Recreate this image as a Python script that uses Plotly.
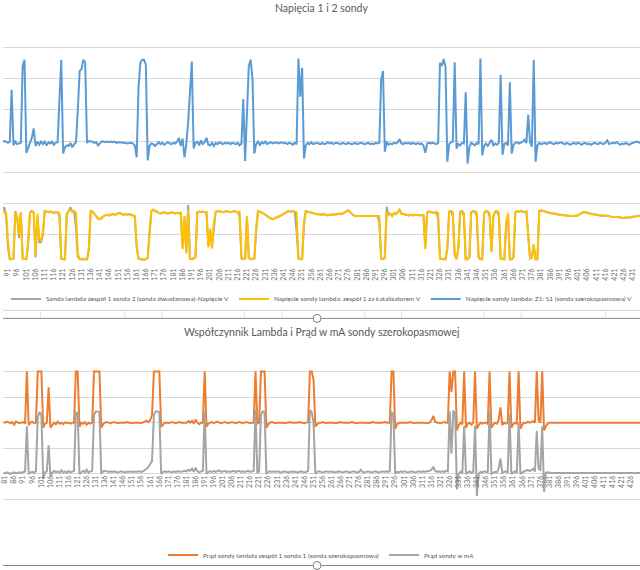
import plotly.graph_objects as go

# ---------------- data ----------------
categories = list(range(80, 440))
top_ticks = list(range(91, 432, 5))
bottom_ticks = list(range(81, 431, 5))

name_grey_top = "Sonda lambda zespół 1 sonda 2 (sonda dwustanowa)-Napięcie V"
name_yellow = "Napięcie sondy lambda: zespół 1 za katalizatorem V"
name_blue = "Napięcie sondy lambda: Z1: S1 (sonda szerokopasmowa) V"
name_orange = "Prąd sondy lambda zespół 1 sonda 1 (sonda szerokopasmowa)"
name_grey_bot = "Prąd sondy w mA"

title_top = "Napięcia 1 i 2 sondy"
title_bottom = "Współczynnik Lambda i Prąd w mA sondy szerokopasmowej"

blue_v = [
    1.97, 1.98, 1.96, 1.97, 1.99, 1.98, 1.96, 1.97, 1.98, 2.00,
    1.99, 1.97, 1.99, 2.82, 1.93, 1.99, 1.95, 1.96, 1.97, 3.20,
    3.30, 1.81, 1.88, 1.96, 2.05, 2.20, 1.92, 1.99, 1.94, 1.99,
    1.95, 1.99, 1.93, 1.98, 1.96, 1.99, 1.94, 1.97, 1.98, 2.65,
    3.30, 1.80, 1.90, 1.93, 1.92, 1.97, 1.90, 1.95, 1.98, 2.50,
    3.12, 3.15, 3.30, 3.25, 1.97, 2.00, 2.00, 1.99, 1.97, 1.98,
    1.93, 1.97, 1.99, 1.99, 1.98, 1.99, 1.98, 1.99, 1.98, 1.99,
    1.97, 1.98, 1.98, 1.97, 1.98, 1.97, 1.96, 1.97, 1.97, 1.96,
    1.93, 1.74, 2.85, 3.25, 3.30, 3.30, 3.22, 1.69, 1.92, 1.96,
    1.95, 1.92, 1.96, 1.98, 1.95, 1.97, 1.94, 1.96, 1.98, 1.96,
    1.95, 1.97, 1.96, 1.99, 2.05, 1.92, 2.04, 1.74, 1.95, 2.30,
    2.80, 3.27, 1.88, 1.97, 1.99, 1.93, 2.01, 1.95, 1.98, 2.05,
    1.94, 1.93, 1.97, 1.92, 1.97, 1.95, 1.98, 1.97, 1.95, 1.97,
    1.96, 1.97, 1.95, 1.97, 1.96, 1.95, 1.97, 1.93, 1.96, 2.67,
    1.68, 2.50, 3.20, 3.30, 3.00, 1.80, 1.95, 1.99, 1.93, 1.98,
    1.96, 1.99, 1.95, 1.97, 1.98, 1.96, 1.97, 1.98, 1.96, 1.97,
    1.98, 1.96, 1.97, 1.95, 1.97, 1.96, 1.94, 1.97, 1.95, 3.32,
    2.71, 3.17, 1.72, 1.93, 1.97, 1.95, 1.98, 1.95, 1.96, 1.97,
    1.96, 1.95, 1.97, 1.95, 1.96, 1.98, 1.96, 1.97, 1.95, 1.97,
    1.97, 1.96, 1.95, 1.97, 1.96, 1.95, 1.97, 1.96, 1.95, 1.96,
    1.97, 1.95, 1.96, 1.97, 1.96, 1.95, 1.96, 1.97, 1.95, 1.96,
    1.95, 1.97, 1.96, 1.97, 2.98, 3.12, 1.83, 1.99, 1.94, 1.96,
    1.95, 1.97, 1.96, 1.98, 2.03, 1.96, 1.95, 1.97, 1.96, 1.97,
    1.95, 1.97, 1.96, 1.95, 1.97, 1.95, 1.96, 1.93, 1.81, 1.96,
    1.97, 1.96, 1.97, 1.96, 1.95, 1.97, 3.25, 3.20, 3.31, 3.18,
    1.67, 1.95, 1.98, 1.99, 3.26, 1.88, 1.95, 1.93, 1.97, 1.96,
    2.78, 1.64, 1.90, 1.97, 1.95, 1.93, 1.97, 1.95, 3.32, 1.77,
    1.92, 1.96, 1.92, 1.97, 2.02, 1.93, 1.96, 1.94, 1.97, 3.06,
    1.78, 1.95, 1.97, 1.93, 2.94, 1.80, 1.94, 1.97, 1.98, 1.96,
    1.97, 1.99, 2.02, 1.97, 2.42, 1.98, 1.91, 3.30, 1.67, 1.93,
    1.97, 1.95, 1.96, 1.97, 1.95, 1.96, 1.98, 1.96, 1.95, 1.97,
    1.96, 1.97, 1.98, 1.96, 1.95, 1.97, 1.96, 1.94, 1.96, 1.97,
    1.95, 1.97, 1.96, 1.94, 1.96, 1.97, 1.95, 1.96, 1.94, 1.96,
    1.97, 1.96, 1.95, 1.97, 1.96, 1.95, 1.97, 2.01, 1.95, 1.96,
    1.97, 1.96, 1.98, 1.96, 1.94, 1.96, 1.95, 1.97, 1.96, 1.94,
    1.96, 1.97, 1.98, 1.99, 1.98, 1.97, 1.96, 1.97, 1.98, 1.97,
]

yellow_v = [
    0.85, 0.86, 0.85, 0.86, 0.87, 0.86, 0.85, 0.86, 0.87, 0.86,
    0.85, 0.40, 0.11, 0.11, 0.12, 0.86, 0.80, 0.50, 0.85, 0.12,
    0.11, 0.11, 0.40, 0.85, 0.87, 0.86, 0.16, 0.84, 0.45, 0.40,
    0.55, 0.88, 0.87, 0.86, 0.87, 0.86, 0.85, 0.86, 0.86, 0.84,
    0.12, 0.11, 0.11, 0.84, 0.88, 0.90, 0.87, 0.88, 0.85, 0.20,
    0.11, 0.11, 0.11, 0.11, 0.11, 0.30, 0.88, 0.87, 0.84, 0.80,
    0.76, 0.75, 0.77, 0.80, 0.81, 0.82, 0.81, 0.82, 0.83, 0.82,
    0.83, 0.84, 0.85, 0.83, 0.82, 0.83, 0.82, 0.83, 0.82, 0.81,
    0.80, 0.35, 0.12, 0.11, 0.10, 0.10, 0.11, 0.13, 0.55, 0.88,
    0.90, 0.88, 0.86, 0.85, 0.84, 0.85, 0.86, 0.85, 0.84, 0.85,
    0.86, 0.85, 0.84, 0.85, 0.84, 0.85, 0.27, 0.80, 0.20, 0.90,
    0.12, 0.11, 0.12, 0.15, 0.86, 0.87, 0.86, 0.87, 0.86, 0.86,
    0.30, 0.60, 0.28, 0.70, 0.87, 0.88, 0.88, 0.87, 0.86, 0.87,
    0.88, 0.87, 0.86, 0.87, 0.88, 0.87, 0.86, 0.87, 0.15, 0.11,
    0.12, 0.80, 0.13, 0.11, 0.11, 0.12, 0.60, 0.88, 0.87, 0.86,
    0.84, 0.82, 0.80, 0.77, 0.76, 0.75, 0.76, 0.77, 0.78, 0.80,
    0.82, 0.84, 0.86, 0.87, 0.88, 0.87, 0.88, 0.87, 0.86, 0.12,
    0.11, 0.11, 0.70, 0.88, 0.87, 0.86, 0.85, 0.84, 0.84, 0.83,
    0.83, 0.82, 0.82, 0.83, 0.82, 0.81, 0.82, 0.82, 0.83, 0.82,
    0.83, 0.84, 0.83, 0.84, 0.86, 0.88, 0.89, 0.87, 0.84, 0.81,
    0.80, 0.80, 0.81, 0.80, 0.80, 0.81, 0.80, 0.80, 0.81, 0.80,
    0.80, 0.81, 0.80, 0.80, 0.12, 0.11, 0.13, 0.86, 0.82, 0.84,
    0.80, 0.85, 0.83, 0.86, 0.90, 0.84, 0.83, 0.82, 0.82, 0.81,
    0.82, 0.81, 0.82, 0.82, 0.81, 0.82, 0.82, 0.81, 0.27, 0.85,
    0.87, 0.86, 0.86, 0.85, 0.86, 0.85, 0.12, 0.11, 0.11, 0.11,
    0.30, 0.87, 0.88, 0.86, 0.20, 0.11, 0.30, 0.87, 0.88, 0.85,
    0.11, 0.11, 0.15, 0.86, 0.88, 0.87, 0.86, 0.15, 0.11, 0.11,
    0.86, 0.88, 0.87, 0.85, 0.22, 0.80, 0.87, 0.88, 0.86, 0.12,
    0.11, 0.11, 0.70, 0.85, 0.11, 0.11, 0.15, 0.86, 0.88, 0.87,
    0.88, 0.87, 0.86, 0.87, 0.50, 0.12, 0.15, 0.35, 0.11, 0.11,
    0.88, 0.89, 0.88, 0.87, 0.86, 0.86, 0.85, 0.84, 0.84, 0.83,
    0.83, 0.82, 0.82, 0.81, 0.81, 0.81, 0.80, 0.80, 0.80, 0.80,
    0.80, 0.81, 0.83, 0.85, 0.86, 0.86, 0.85, 0.84, 0.84, 0.83,
    0.83, 0.82, 0.82, 0.81, 0.81, 0.81, 0.80, 0.80, 0.80, 0.79,
    0.79, 0.79, 0.78, 0.78, 0.78, 0.77, 0.77, 0.77, 0.77, 0.78,
    0.78, 0.79, 0.79, 0.80, 0.80, 0.81, 0.81, 0.81, 0.81, 0.81,
]

grey_top_v = [
    0.85, 0.86, 0.85, 0.86, 0.87, 0.86, 0.85, 0.86, 0.90, 0.94,
    0.80, 0.30, 0.11, 0.11, 0.12, 0.88, 0.78, 0.45, 0.86, 0.12,
    0.11, 0.11, 0.35, 0.86, 0.88, 0.86, 0.14, 0.80, 0.38, 0.38,
    0.50, 0.88, 0.87, 0.86, 0.87, 0.86, 0.85, 0.86, 0.86, 0.80,
    0.12, 0.11, 0.11, 0.82, 0.88, 0.94, 0.87, 0.88, 0.60, 0.15,
    0.11, 0.11, 0.11, 0.11, 0.11, 0.25, 0.88, 0.87, 0.84, 0.80,
    0.76, 0.75, 0.77, 0.80, 0.81, 0.82, 0.81, 0.82, 0.83, 0.82,
    0.83, 0.84, 0.85, 0.83, 0.82, 0.83, 0.82, 0.83, 0.82, 0.81,
    0.78, 0.30, 0.12, 0.11, 0.10, 0.10, 0.11, 0.13, 0.50, 0.88,
    0.90, 0.88, 0.86, 0.85, 0.84, 0.85, 0.86, 0.85, 0.84, 0.85,
    0.86, 0.85, 0.84, 0.85, 0.84, 0.85, 0.30, 0.78, 0.22, 0.98,
    0.12, 0.11, 0.12, 0.14, 0.86, 0.87, 0.86, 0.87, 0.86, 0.86,
    0.32, 0.55, 0.32, 0.65, 0.87, 0.88, 0.88, 0.87, 0.86, 0.87,
    0.88, 0.87, 0.86, 0.87, 0.88, 0.87, 0.86, 0.80, 0.12, 0.11,
    0.12, 0.78, 0.13, 0.11, 0.11, 0.12, 0.55, 0.88, 0.87, 0.86,
    0.84, 0.82, 0.80, 0.77, 0.76, 0.75, 0.76, 0.77, 0.78, 0.80,
    0.82, 0.84, 0.86, 0.87, 0.88, 0.87, 0.88, 0.87, 0.55, 0.12,
    0.11, 0.11, 0.65, 0.88, 0.87, 0.86, 0.85, 0.84, 0.84, 0.83,
    0.83, 0.82, 0.82, 0.83, 0.82, 0.81, 0.82, 0.82, 0.83, 0.82,
    0.83, 0.84, 0.83, 0.84, 0.86, 0.88, 0.89, 0.87, 0.84, 0.81,
    0.80, 0.80, 0.81, 0.80, 0.80, 0.81, 0.80, 0.80, 0.81, 0.80,
    0.80, 0.81, 0.80, 0.70, 0.12, 0.11, 0.13, 0.95, 0.82, 0.84,
    0.80, 0.85, 0.83, 0.86, 0.90, 0.84, 0.83, 0.82, 0.82, 0.81,
    0.82, 0.81, 0.82, 0.82, 0.81, 0.82, 0.82, 0.81, 0.30, 0.85,
    0.87, 0.86, 0.86, 0.85, 0.86, 0.75, 0.12, 0.11, 0.11, 0.11,
    0.28, 0.87, 0.88, 0.80, 0.18, 0.11, 0.28, 0.87, 0.88, 0.80,
    0.11, 0.11, 0.14, 0.86, 0.88, 0.87, 0.80, 0.14, 0.11, 0.11,
    0.84, 0.88, 0.87, 0.80, 0.24, 0.78, 0.87, 0.88, 0.80, 0.12,
    0.11, 0.11, 0.65, 0.80, 0.11, 0.11, 0.14, 0.86, 0.88, 0.87,
    0.88, 0.87, 0.86, 0.87, 0.45, 0.12, 0.14, 0.33, 0.11, 0.11,
    0.88, 0.89, 0.88, 0.87, 0.86, 0.86, 0.85, 0.84, 0.84, 0.83,
    0.83, 0.82, 0.82, 0.81, 0.81, 0.81, 0.80, 0.80, 0.80, 0.80,
    0.80, 0.81, 0.83, 0.85, 0.86, 0.86, 0.85, 0.84, 0.84, 0.83,
    0.83, 0.82, 0.82, 0.81, 0.81, 0.81, 0.80, 0.80, 0.80, 0.79,
    0.79, 0.79, 0.78, 0.78, 0.78, 0.77, 0.77, 0.77, 0.77, 0.78,
    0.78, 0.79, 0.79, 0.80, 0.80, 0.81, 0.81, 0.81, 0.81, 0.81,
]

orange_lambda = [
    1.01, 1.00, 1.02, 1.00, 0.99, 1.01, 0.96, 1.02, 1.00, 0.99,
    1.00, 1.01, 0.98, 2.00, 0.95, 1.00, 1.02, 0.99, 1.00, 2.00,
    2.00, 2.00, 0.90, 0.98, 1.00, 1.69, 0.90, 0.95, 1.00, 0.97,
    1.02, 0.98, 1.00, 0.97, 1.01, 0.99, 1.00, 0.98, 1.00, 1.00,
    2.00, 2.00, 0.92, 1.00, 0.98, 1.01, 0.96, 1.00, 0.98, 1.00,
    2.00, 2.00, 2.00, 2.00, 0.90, 0.97, 1.00, 1.01, 1.00, 0.99,
    1.00, 1.01, 1.00, 0.99, 1.00, 1.00, 0.99, 1.00, 1.01, 1.00,
    1.00, 0.99, 1.00, 1.00, 1.01, 1.00, 0.99, 1.00, 1.02, 1.04,
    1.01, 1.05, 1.15, 2.00, 2.00, 2.00, 2.00, 0.92, 0.97, 1.00,
    1.00, 0.99, 1.00, 1.01, 1.00, 0.99, 1.00, 1.01, 1.00, 1.00,
    1.01, 1.00, 1.03, 1.00, 1.04, 0.98, 1.06, 1.00, 0.97, 1.00,
    1.00, 2.00, 0.92, 0.98, 1.00, 1.01, 0.99, 1.00, 1.02, 1.00,
    0.99, 1.00, 1.01, 1.00, 0.99, 1.00, 1.01, 1.00, 0.99, 1.00,
    1.01, 1.00, 0.99, 1.00, 1.01, 1.00, 0.99, 1.00, 1.00, 2.00,
    0.98, 1.00, 2.00, 2.00, 2.00, 0.90, 0.97, 1.00, 1.01, 1.00,
    0.99, 1.00, 1.00, 1.01, 1.00, 0.99, 1.00, 1.00, 1.01, 1.00,
    1.00, 0.99, 1.00, 1.01, 1.00, 1.00, 0.99, 1.00, 1.01, 2.00,
    2.00, 1.83, 0.92, 0.97, 1.00, 1.00, 1.01, 1.00, 0.99, 1.00,
    1.00, 1.01, 1.00, 0.99, 1.00, 1.00, 1.01, 1.00, 1.00, 0.99,
    1.00, 1.00, 1.01, 1.00, 1.00, 0.99, 1.00, 1.00, 1.01, 1.00,
    1.00, 0.99, 1.00, 1.00, 1.01, 1.00, 1.00, 0.99, 1.00, 1.00,
    1.01, 1.00, 1.00, 1.00, 2.00, 2.00, 0.88, 0.97, 1.00, 1.00,
    1.00, 0.99, 1.00, 1.00, 1.01, 1.00, 1.00, 0.99, 1.00, 1.00,
    1.01, 1.00, 1.00, 0.99, 1.00, 1.00, 1.05, 1.13, 1.02, 1.00,
    1.00, 0.99, 1.00, 1.01, 1.00, 1.00, 2.00, 1.60, 2.00, 2.00,
    0.85, 0.95, 1.00, 0.97, 2.00, 0.90, 0.98, 1.00, 0.96, 1.00,
    2.00, 0.88, 0.95, 1.00, 0.98, 1.00, 1.00, 0.97, 2.00, 0.90,
    0.96, 1.00, 0.98, 1.05, 1.30, 0.95, 1.00, 0.98, 1.00, 2.00,
    0.90, 0.97, 1.00, 0.98, 2.00, 0.88, 0.96, 1.00, 0.99, 1.02,
    1.00, 1.01, 1.03, 1.00, 2.00, 1.05, 1.00, 2.00, 0.85, 0.93,
    0.98, 1.00, 1.00, 1.00, 1.00, 1.00, 1.00, 1.00, 1.00, 1.00,
    1.00, 1.00, 1.00, 1.00, 1.00, 1.00, 1.00, 1.00, 1.00, 1.00,
    1.00, 1.00, 1.00, 1.00, 1.00, 1.00, 1.00, 1.00, 1.00, 1.00,
    1.00, 1.00, 1.00, 1.00, 1.00, 1.00, 1.00, 1.00, 1.00, 1.00,
    1.00, 1.00, 1.00, 1.00, 1.00, 1.00, 1.00, 1.00, 1.00, 1.00,
    1.00, 1.00, 1.00, 1.00, 1.00, 1.00, 1.00, 1.00, 1.00, 1.00,
]

grey_current = [
    0.02, 0.01, 0.03, 0.02, 0.00, 0.02, 0.03, 0.01, 0.02, 0.03,
    0.02, 0.03, 0.05, 0.93, 0.00, 0.03, 0.04, 0.02, 0.05, 1.10,
    1.21, 1.15, -0.10, 0.03, 0.05, 0.56, -0.05, 0.02, 0.06, 0.03,
    0.05, 0.02, 0.07, 0.03, 0.05, 0.02, 0.06, 0.03, 0.04, 0.06,
    1.20, 1.18, 0.00, 0.04, 0.06, 0.03, 0.08, 0.02, 0.05, 0.06,
    1.15, 1.22, 1.22, 1.20, 0.00, 0.05, 0.06, 0.05, 0.04, 0.05,
    0.04, 0.05, 0.04, 0.03, 0.04, 0.05, 0.04, 0.03, 0.04, 0.04,
    0.03, 0.04, 0.04, 0.03, 0.04, 0.05, 0.04, 0.05, 0.07, 0.10,
    0.14, 0.20, 0.25, 1.15, 1.22, 1.22, 1.20, 0.00, 0.04, 0.05,
    0.04, 0.05, 0.04, 0.03, 0.05, 0.04, 0.05, 0.04, 0.04, 0.05,
    0.06, 0.05, 0.08, 0.06, 0.10, 0.04, 0.12, 0.05, 0.03, 0.05,
    0.06, 1.22, 0.00, 0.04, 0.05, 0.04, 0.06, 0.04, 0.05, 0.07,
    0.04, 0.05, 0.06, 0.04, 0.05, 0.04, 0.05, 0.06, 0.04, 0.05,
    0.06, 0.04, 0.05, 0.04, 0.05, 0.06, 0.04, 0.05, 0.06, 1.25,
    0.02, 0.05, 1.15, 1.22, 1.20, 0.00, 0.04, 0.05, 0.04, 0.05,
    0.04, 0.05, 0.04, 0.03, 0.04, 0.05, 0.04, 0.03, 0.04, 0.04,
    0.05, 0.04, 0.03, 0.04, 0.05, 0.04, 0.03, 0.04, 0.06, 1.25,
    1.20, 1.00, 0.00, 0.04, 0.05, 0.04, 0.03, 0.04, 0.05, 0.04,
    0.04, 0.05, 0.04, 0.03, 0.04, 0.05, 0.04, 0.03, 0.04, 0.05,
    0.04, 0.03, 0.04, 0.05, 0.04, 0.03, 0.04, 0.08, 0.04, 0.03,
    0.04, 0.05, 0.04, 0.03, 0.04, 0.05, 0.04, 0.03, 0.04, 0.05,
    0.04, 0.05, 0.04, 0.05, 1.20, 1.18, 0.00, 0.04, 0.03, 0.05,
    0.04, 0.05, 0.04, 0.03, 0.04, 0.05, 0.04, 0.03, 0.04, 0.05,
    0.04, 0.05, 0.04, 0.04, 0.05, 0.06, 0.08, 0.14, 0.06, 0.04,
    0.05, 0.04, 0.05, 0.04, 0.06, 0.05, 1.22, 0.40, 1.22, 1.20,
    -0.30, 0.00, 0.04, 0.02, 0.94, 0.00, 0.03, 0.05, 0.02, 0.04,
    0.94, -0.43, 0.00, 0.04, 0.03, 0.05, 0.04, 0.03, 1.22, 0.00,
    0.02, 0.04, 0.03, 0.10, 0.30, 0.02, 0.04, 0.05, 0.03, 1.17,
    0.00, 0.03, 0.05, 0.02, 1.00, 0.00, 0.03, 0.05, 0.06, 0.08,
    0.06, 0.07, 0.10, 0.05, 0.84, 0.10, 0.08, 0.93, -0.35, 0.02,
    0.03, 0.02, 0.02, 0.02, 0.02, 0.02, 0.02, 0.02, 0.02, 0.02,
    0.02, 0.02, 0.02, 0.02, 0.02, 0.02, 0.02, 0.02, 0.02, 0.02,
    0.02, 0.02, 0.02, 0.02, 0.02, 0.02, 0.02, 0.02, 0.02, 0.02,
    0.02, 0.02, 0.02, 0.02, 0.02, 0.02, 0.02, 0.02, 0.02, 0.02,
    0.02, 0.02, 0.02, 0.02, 0.02, 0.02, 0.02, 0.02, 0.02, 0.02,
    0.02, 0.02, 0.02, 0.02, 0.02, 0.02, 0.02, 0.02, 0.02, 0.02,
]

for arr in (blue_v, yellow_v, grey_top_v, orange_lambda, grey_current):
    assert len(arr) == len(categories), len(arr)

# ---------------- styling ----------------
W, H = 640, 570
FONT = "Lato"
TXT = "#595959"
GRID = "#d9d9d9"
C_BLUE, C_ORANGE, C_GREY, C_GOLD = "#5B9BD5", "#ED7D31", "#A5A5A5", "#FFC000"


def py(p):
    return 1 - p / H


fig = go.Figure()
fig.add_trace(go.Scatter(x=categories, y=grey_top_v, mode="lines", name=name_grey_top,
                         line=dict(color=C_GREY, width=2), xaxis="x", yaxis="y", legend="legend"))
fig.add_trace(go.Scatter(x=categories, y=yellow_v, mode="lines", name=name_yellow,
                         line=dict(color=C_GOLD, width=2), xaxis="x", yaxis="y", legend="legend"))
fig.add_trace(go.Scatter(x=categories, y=blue_v, mode="lines", name=name_blue,
                         line=dict(color=C_BLUE, width=2), xaxis="x", yaxis="y", legend="legend"))
fig.add_trace(go.Scatter(x=categories, y=orange_lambda, mode="lines", name=name_orange,
                         line=dict(color=C_ORANGE, width=2), xaxis="x2", yaxis="y2", legend="legend2"))
fig.add_trace(go.Scatter(x=categories, y=grey_current, mode="lines", name=name_grey_bot,
                         line=dict(color=C_GREY, width=2), xaxis="x2", yaxis="y2", legend="legend2"))

tickfont = dict(family=FONT, size=7, color="#6f6f6f")
legfont = dict(family=FONT, size=6.5, color=TXT)

shapes = []
# bottom border of the upper chart and worksheet cells in the gap
shapes.append(dict(type="line", xref="paper", yref="paper", x0=0, x1=1,
                   y0=py(311.5), y1=py(311.5), line=dict(color="#d4d4d4", width=1)))
for cx in [37.5, 122.5, 159.5, 242.5, 280.5, 363.5, 400.5, 483.5, 520.5, 605.5]:
    shapes.append(dict(type="line", xref="paper", yref="paper", x0=cx / W, x1=cx / W,
                       y0=py(312), y1=py(319), line=dict(color="#e2e2e2", width=1)))
# selected chart frame
for yy in (319.5, 567.5):
    shapes.append(dict(type="line", xref="paper", yref="paper", x0=0, x1=1,
                       y0=py(yy), y1=py(yy), line=dict(color="#8a8a8a", width=1)))
    shapes.append(dict(type="circle", xref="paper", yref="paper",
                       x0=(315.5 - 4) / W, x1=(315.5 + 4) / W, y0=py(yy + 4), y1=py(yy - 4),
                       fillcolor="white", line=dict(color="#7a7a7a", width=1)))

fig.update_layout(
    width=W, height=H,
    margin=dict(l=0, r=0, t=0, b=0),
    paper_bgcolor="white", plot_bgcolor="white",
    font=dict(family=FONT, color=TXT),
    showlegend=True,
    hovermode=False,
    xaxis=dict(domain=[0, 1], anchor="y", range=[88.3, 434.8], tickmode="array",
               tickvals=top_ticks, ticktext=[str(t) for t in top_ticks], tickangle=-90,
               tickfont=tickfont, showgrid=False, showline=False, zeroline=False, ticks="",
               ticklabeloverflow="allow"),
    yaxis=dict(domain=[py(267), py(16)], anchor="x", range=[0, 4], dtick=0.5, tick0=0,
               showticklabels=False, showgrid=True, gridcolor=GRID, gridwidth=1,
               zeroline=False, showline=False, ticks=""),
    xaxis2=dict(domain=[0, 1], anchor="free", position=py(475), range=[79.85, 430.9],
                tickmode="array", tickvals=bottom_ticks, ticktext=[str(t) for t in bottom_ticks],
                tickangle=-90, tickfont=tickfont, showgrid=False, showline=False,
                zeroline=False, ticks="", ticklabeloverflow="allow"),
    yaxis2=dict(domain=[py(527), py(347)], anchor="x2", range=[-1, 2.5], dtick=0.5, tick0=0,
                showticklabels=False, showgrid=True, gridcolor=GRID, gridwidth=1,
                zeroline=False, showline=False, ticks=""),
    legend=dict(orientation="h", x=0.5, xanchor="center", y=py(300), yanchor="middle",
                font=legfont, bgcolor="rgba(0,0,0,0)", itemwidth=30, tracegroupgap=0),
    legend2=dict(orientation="h", x=0.5, xanchor="center", y=py(557), yanchor="middle",
                 font=legfont, bgcolor="rgba(0,0,0,0)", itemwidth=30, tracegroupgap=0),
    annotations=[
        dict(text=title_top, x=0.5, y=py(8), xref="paper", yref="paper", showarrow=False,
             xanchor="center", yanchor="middle", font=dict(family=FONT, size=10.5, color=TXT)),
        dict(text=title_bottom, x=0.5, y=py(333), xref="paper", yref="paper", showarrow=False,
             xanchor="center", yanchor="middle", font=dict(family=FONT, size=10.5, color=TXT)),
    ],
    shapes=shapes,
)

fig.write_html("out.html")
